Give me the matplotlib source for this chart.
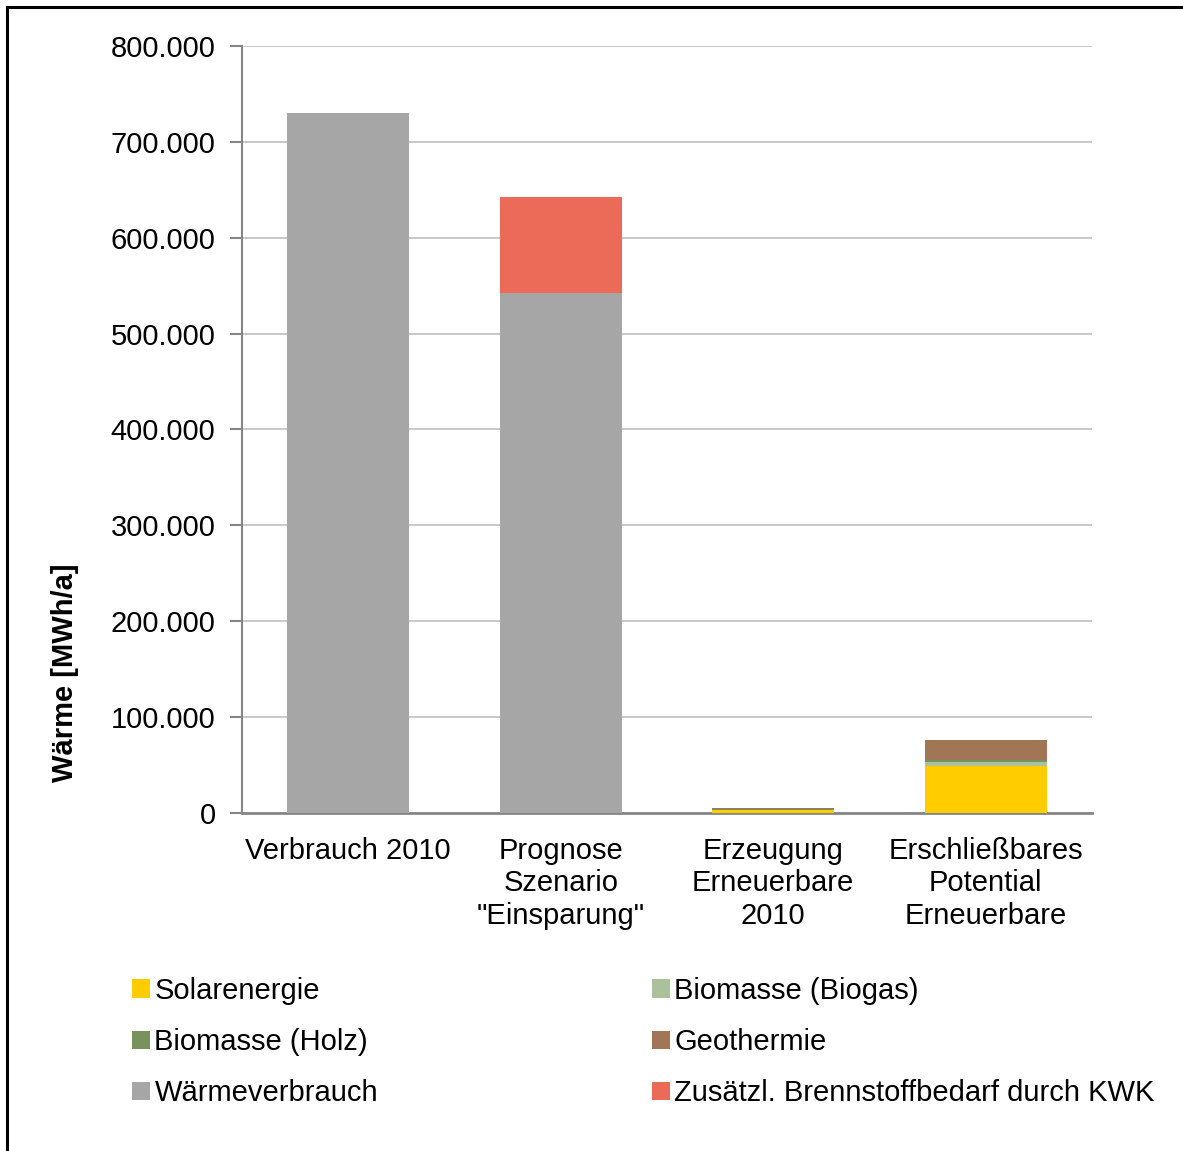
import matplotlib
matplotlib.use("Agg")
import matplotlib.pyplot as plt
from matplotlib.ticker import FuncFormatter
from matplotlib.patches import Patch
from matplotlib.lines import Line2D
import numpy as np

plt.rcParams['font.family'] = ['Liberation Sans', 'DejaVu Sans']

categories = ['Verbrauch 2010', 'Prognose\nSzenario\n"Einsparung"',
              'Erzeugung\nErneuerbare\n2010', 'Erschließbares\nPotential\nErneuerbare']

solar = [0, 0, 3200, 49000]
biogas = [0, 0, 200, 4000]
holz = [0, 0, 300, 2000]
geothermie = [0, 0, 1300, 21000]
waermeverbrauch = [730000, 542000, 0, 0]
kwk = [0, 100500, 0, 0]

series = [
    ('Solarenergie', solar, '#FFCC00'),
    ('Biomasse (Biogas)', biogas, '#ABC19B'),
    ('Biomasse (Holz)', holz, '#77925F'),
    ('Geothermie', geothermie, '#A07656'),
    ('Wärmeverbrauch', waermeverbrauch, '#A6A6A6'),
    ('Zusätzl. Brennstoffbedarf durch KWK', kwk, '#EC6B58'),
]

FS = 21

fig = plt.figure(figsize=(11.83, 11.51), dpi=100)
ax = fig.add_axes([242 / 1183, 1 - 813 / 1151, 850 / 1183, 767 / 1151])

x = np.arange(len(categories))
bottom = np.zeros(len(categories))
handles = {}
for name, vals, color in series:
    vals = np.array(vals, dtype=float)
    ax.bar(x, vals, width=0.574, bottom=bottom, color=color, zorder=3)
    bottom += vals
    handles[name] = Patch(facecolor=color, edgecolor='none', label=name)

ax.set_xlim(-0.5, len(categories) - 0.5)
ax.set_ylim(0, 800000)
ax.set_yticks(np.arange(0, 800001, 100000))
ax.yaxis.set_major_formatter(FuncFormatter(lambda v, p: f"{int(v):,}".replace(",", ".")))
ax.set_xticks(x)
ax.set_xticklabels(categories, fontsize=FS, linespacing=1.19)
ax.tick_params(axis='y', labelsize=FS, length=9, width=1.5, color='#868686', pad=10)
ax.tick_params(axis='x', length=0, pad=17.5)
ax.grid(axis='y', color='#BFBFBF', linewidth=1.2, zorder=0)
for s in ['top', 'right']:
    ax.spines[s].set_visible(False)
ax.spines['left'].set_color('#868686')
ax.spines['left'].set_linewidth(1.5)
ax.spines['bottom'].set_color('#868686')
ax.spines['bottom'].set_linewidth(2)

fig.text(65 / 1183, 1 - 673 / 1151, 'Wärme [MWh/a]', rotation=90, fontsize=FS,
         fontweight='bold', ha='center', va='center')

leg_kw = dict(frameon=False, fontsize=FS, handlelength=0.6, handleheight=0.6,
              handletextpad=0.17, labelspacing=0.79, borderpad=0, borderaxespad=0)
left_names = ['Solarenergie', 'Biomasse (Holz)', 'Wärmeverbrauch']
right_names = ['Biomasse (Biogas)', 'Geothermie', 'Zusätzl. Brennstoffbedarf durch KWK']
fig.legend(handles=[handles[n] for n in left_names], loc='upper left',
           bbox_to_anchor=(132 / 1183, 1 - 977 / 1151), **leg_kw)
fig.legend(handles=[handles[n] for n in right_names], loc='upper left',
           bbox_to_anchor=(652 / 1183, 1 - 977 / 1151), **leg_kw)

# outer frame (top and left edges)
fig.add_artist(Line2D([7 / 1183, 7 / 1183], [0, 1 - 7 / 1151], transform=fig.transFigure,
                      color='black', linewidth=2.2))
fig.add_artist(Line2D([7 / 1183, 1], [1 - 7 / 1151, 1 - 7 / 1151], transform=fig.transFigure,
                      color='black', linewidth=2.2))

fig.savefig('out.png', dpi=100)
